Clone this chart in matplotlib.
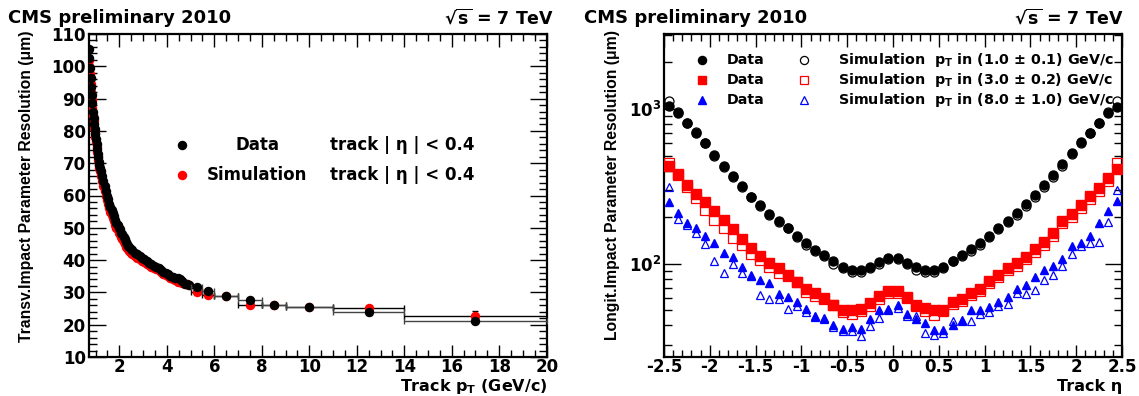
import numpy as np
import matplotlib
matplotlib.use('Agg')
import matplotlib.pyplot as plt
from matplotlib.ticker import MultipleLocator, NullFormatter, FixedLocator, FuncFormatter

plt.rcParams['font.family'] = ['DejaVu Sans']
plt.rcParams['font.weight'] = 'bold'
plt.rcParams['mathtext.fontset'] = 'dejavusans'
plt.rcParams['mathtext.default'] = 'bf'

# ---------------- Left panel data (transverse IP resolution vs pT) ----------------
pt_fine = [0.7125, 0.7375, 0.7625, 0.7875, 0.8125, 0.8375, 0.8625, 0.8875, 0.9125, 0.9375,
           0.9625, 0.9875, 1.0125, 1.0375, 1.0625, 1.0875, 1.1125, 1.1375, 1.1625, 1.1875,
           1.225, 1.275, 1.325, 1.375, 1.425, 1.475, 1.525, 1.575, 1.625, 1.675,
           1.725, 1.775, 1.825, 1.875, 1.925, 1.975, 2.025, 2.075, 2.125, 2.175,
           2.225, 2.275, 2.325, 2.375, 2.425, 2.475,
           2.55, 2.65, 2.75, 2.85, 2.95, 3.05, 3.15, 3.25, 3.35, 3.45,
           3.55, 3.65, 3.75, 3.85, 3.95, 4.05, 4.15, 4.25, 4.35, 4.45,
           4.55, 4.65, 4.75, 4.85, 4.95]
data_fine = [105.5, 102.5, 99.5, 96.5, 93.5, 91.0, 88.5, 86.0, 84.0, 82.0,
             80.5, 79.0, 77.5, 76.0, 74.5, 73.0, 72.0, 70.5, 69.5, 68.5,
             67.5, 66.0, 64.5, 63.0, 61.5, 60.0, 59.0, 57.5, 56.5, 55.5,
             54.5, 53.5, 52.5, 51.5, 51.0, 50.0, 49.5, 48.5, 48.0, 47.0,
             46.5, 45.5, 45.0, 44.5, 44.0, 43.5,
             43.0, 42.3, 41.8, 41.3, 40.6, 40.2, 39.6, 39.0, 38.7, 38.3,
             37.8, 37.5, 37.0, 36.4, 36.0, 35.6, 35.2, 34.9, 34.6, 34.4,
             34.2, 33.5, 32.6, 32.5, 32.4]
sim_fine = [102.0, 100.0, 97.5, 94.5, 92.0, 89.5, 87.0, 85.0, 83.0, 81.0,
            79.5, 78.0, 76.5, 75.0, 73.5, 72.0, 71.0, 69.5, 68.5, 67.5,
            66.0, 64.5, 63.0, 61.5, 60.0, 58.5, 57.5, 56.0, 55.0, 54.0,
            53.0, 52.0, 51.0, 50.0, 49.5, 48.5, 48.0, 47.0, 46.5, 45.5,
            45.0, 44.2, 43.8, 43.3, 42.8, 42.3,
            41.8, 41.2, 40.6, 40.2, 39.8, 39.3, 38.8, 38.4, 38.0, 37.6,
            37.2, 36.8, 36.3, 35.8, 35.4, 35.0, 34.6, 34.2, 33.7, 33.3,
            33.1, 32.9, 32.7, 32.5, 32.3]

pt_wide = [5.25, 5.75, 6.5, 7.5, 8.5, 10.0, 12.5, 17.0]
pt_halfwidth = [0.25, 0.25, 0.5, 0.5, 0.5, 1.0, 1.5, 3.0]
data_wide = [31.8, 30.4, 29.0, 27.7, 26.2, 25.4, 23.8, 21.3]
data_wide_err = [0.3, 0.3, 0.4, 0.4, 0.5, 0.5, 0.7, 0.9]
sim_wide = [30.0, 29.3, 29.0, 26.1, 26.1, 25.4, 25.1, 22.6]
sim_wide_err = [0.3, 0.3, 0.4, 0.4, 0.5, 0.5, 0.8, 1.6]

# ---------------- Right panel data (longitudinal IP resolution vs eta) ----------------
eta_centers = np.round(np.arange(-2.45, 2.5, 0.1), 2)
data_pt1 = [1050, 946, 812, 703, 601, 505, 427, 370, 319, 272,
            240, 209, 190, 171, 152, 136, 123, 114, 103.5, 96,
            91.5, 91.5, 96, 102, 109, 109.5, 101, 95, 91.5, 91.5,
            96, 105, 114, 124.5, 136, 152, 171, 189, 212, 243,
            277, 322, 374, 442, 518, 610, 703, 809, 946, 1030]
sim_pt1 = [1120, 950, 810, 710, 600, 500, 420, 362, 313, 270,
           236, 206, 185, 170, 150, 133, 121, 112, 100, 94,
           88, 89, 94, 100, 107, 107, 99, 91, 88, 88,
           94, 104, 112, 121, 133, 149, 168, 185, 208, 236,
           270, 315, 366, 430, 510, 600, 703, 809, 955, 1120]
data_pt3 = [428, 381, 324, 283, 250, 219, 192, 167, 144, 126,
            113, 101, 94, 85, 76, 69, 65, 60, 54.4, 50,
            50, 51, 56, 61.5, 67, 67, 61, 54.4, 51.8, 50,
            50.5, 56.5, 59, 65, 69, 77, 85, 94, 101, 111,
            125, 139, 159, 189, 209, 240, 275, 308, 358, 410]
sim_pt3 = [446, 375, 312, 265, 223, 192, 170, 147, 133, 116,
           106, 96, 87, 83, 76, 66, 61.5, 59, 54.4, 48.5,
           47.6, 49.3, 53.7, 59, 64.6, 65, 60, 53, 49.3, 46.9,
           49.5, 55, 57.5, 63, 67, 74.6, 82, 91, 97, 107,
           120, 133, 152, 183, 200, 228, 262, 296, 345, 446]
data_pt8 = [250, 212, 183, 171, 152, 136, 118, 111, 96, 83,
            79, 75, 64, 61, 57, 51, 46, 44.7, 40.4, 37.9,
            39, 37.9, 44, 50.5, 51, 54.4, 47.6, 44, 41.4, 37.5,
            37.3, 40.4, 43.6, 50.5, 50.5, 52.6, 57, 61, 69, 73,
            82, 91.5, 97, 107, 131, 136, 152, 183, 218, 256]
sim_pt8 = [315, 194, 178, 159, 135, 105, 87, 100, 87, 85,
           63, 59, 59, 51, 53, 48.5, 45.3, 44, 39, 36.6,
           36.6, 34.3, 39.9, 44.7, 50, 52, 46, 45.8, 35.7, 34.8,
           35.7, 42.4, 43, 42.4, 47.6, 48.5, 53.7, 55, 64.6, 64,
           68, 79, 85, 97, 115, 131, 137, 139, 185, 300]

legend_rows = ["(1.0 \u00b1 0.1)", "(3.0 \u00b1 0.2)", "(8.0 \u00b1 1.0)"]

W, H = 1139, 396
fig = plt.figure(figsize=(W / 100, H / 100), dpi=100)
fig.patch.set_facecolor('white')

ax_bottom = (H - 357) / H
ax_height = (357 - 34) / H
axL = fig.add_axes([88.5 / W, ax_bottom, 458.2 / W, ax_height])
axR = fig.add_axes([664 / W, ax_bottom, 458 / W, ax_height])

for ax in (axL, axR):
    for sp in ax.spines.values():
        sp.set_linewidth(1.6)
    ax.tick_params(which='both', direction='in', top=True, right=True, width=1.0,
                   labelsize=12)
    ax.tick_params(axis='x', which='major', length=9, pad=1)
    ax.tick_params(axis='x', which='minor', length=5)
    ax.tick_params(axis='y', which='major', length=12, pad=2)
    ax.tick_params(axis='y', which='minor', length=6)

# ---- Left panel ----
ms_l = 5.8
axL.plot(pt_fine, sim_fine, 'o', color='red', ms=ms_l, mec='red', zorder=3)
axL.plot(pt_fine, data_fine, 'o', color='black', ms=ms_l, mec='black', zorder=4)
axL.errorbar(pt_wide, sim_wide, xerr=pt_halfwidth, yerr=sim_wide_err, fmt='o', color='red',
             ms=ms_l, ecolor='black', elinewidth=1.0, capsize=2.5, capthick=1.0, zorder=3)
axL.errorbar(pt_wide, data_wide, xerr=pt_halfwidth, yerr=data_wide_err, fmt='o', color='black',
             ms=ms_l, ecolor='#444444', elinewidth=1.0, capsize=2.5, capthick=1.0, zorder=4)
axL.set_xlim(0.7, 20)
axL.set_ylim(10, 110)
axL.xaxis.set_major_locator(FixedLocator([2, 4, 6, 8, 10, 12, 14, 16, 18, 20]))
axL.xaxis.set_minor_locator(MultipleLocator(0.5))
axL.yaxis.set_major_locator(MultipleLocator(10))
axL.yaxis.set_minor_locator(MultipleLocator(2))

# left legend
lx_m, lx_lab, lx_trk = 0.204, 0.368, 0.528
for yy, col, lab in [(0.656, 'black', 'Data'), (0.563, 'red', 'Simulation')]:
    axL.plot([lx_m], [yy], 'o', color=col, ms=ms_l, transform=axL.transAxes, clip_on=False)
    axL.text(lx_lab, yy, lab, transform=axL.transAxes, ha='center', va='center', fontsize=12,
             fontweight='bold')
    axL.text(lx_trk, yy, 'track | \u03b7 | < 0.4', transform=axL.transAxes, ha='left',
             va='center', fontsize=12, fontweight='bold')

# ---- Right panel ----
ms_r = 6.5
axR.set_yscale('log')
axR.plot(eta_centers, sim_pt1, 'o', mfc='none', mec='black', mew=0.9, ms=ms_r, zorder=3)
axR.plot(eta_centers, data_pt1, 'o', color='black', ms=ms_r, zorder=4)
axR.plot(eta_centers, sim_pt3, 's', mfc='none', mec='red', mew=0.9, ms=ms_r, zorder=3)
axR.plot(eta_centers, data_pt3, 's', color='red', ms=ms_r, zorder=4)
axR.plot(eta_centers, sim_pt8, '^', mfc='none', mec='blue', mew=0.9, ms=ms_r * 0.95, zorder=3)
axR.plot(eta_centers, data_pt8, '^', color='blue', ms=ms_r * 0.95, zorder=4)
axR.set_xlim(-2.5, 2.5)
axR.set_ylim(25, 3050)
axR.xaxis.set_major_locator(MultipleLocator(0.5))
axR.xaxis.set_minor_locator(MultipleLocator(0.1))
axR.xaxis.set_major_formatter(FuncFormatter(lambda v, p: '%g' % round(v, 2)))
axR.yaxis.set_major_locator(FixedLocator([100, 1000]))
axR.yaxis.set_minor_locator(FixedLocator([30, 40, 50, 60, 70, 80, 90,
                                          200, 300, 400, 500, 600, 700, 800, 900,
                                          2000, 3000]))
axR.yaxis.set_minor_formatter(NullFormatter())
axR.yaxis.set_major_formatter(FuncFormatter(lambda v, p: r'$\mathbf{10^{%d}}$' % round(np.log10(v))))

# right legend
rx_f, rx_dat, rx_o, rx_sim = 0.082, 0.136, 0.305, 0.379
rows_y = [0.920, 0.858, 0.796]
styles = [('o', 'black'), ('s', 'red'), ('^', 'blue')]
for yy, (mk, col), rng in zip(rows_y, styles, legend_rows):
    axR.plot([rx_f], [yy], mk, color=col, ms=ms_r * 0.9, transform=axR.transAxes, clip_on=False)
    axR.plot([rx_o], [yy], mk, mfc='none', mec=col, mew=0.9, ms=ms_r * 0.9,
             transform=axR.transAxes, clip_on=False)
    axR.text(rx_dat, yy, 'Data', transform=axR.transAxes, ha='left', va='center', fontsize=10.3)
    axR.text(rx_sim, yy, 'Simulation  p$_{T}$ in ' + rng + ' GeV/c', transform=axR.transAxes,
             ha='left', va='center', fontsize=10.3)

# ---- Titles / labels ----
fig.text(8 / W, 1 - 18 / H, 'CMS preliminary 2010', ha='left', va='center', fontsize=13)
fig.text(554 / W, 1 - 18 / H, r'$\sqrt{s}$ = 7 TeV', ha='right', va='center', fontsize=12.5)
fig.text(584 / W, 1 - 18 / H, 'CMS preliminary 2010', ha='left', va='center', fontsize=13)
fig.text(1124 / W, 1 - 18 / H, r'$\sqrt{s}$ = 7 TeV', ha='right', va='center', fontsize=12.5)

fig.text(547 / W, 1 - 387 / H, 'Track p$_{T}$ (GeV/c)', ha='right', va='center', fontsize=11.5)
fig.text(1122 / W, 1 - 387 / H, 'Track \u03b7', ha='right', va='center', fontsize=11.5)

fig.text(27 / W, 1 - 30 / H, 'Transv.Impact Parameter Resolution (\u03bcm)', rotation=90,
         ha='center', va='top', fontsize=11.3, family='Liberation Sans', fontweight='bold')
fig.text(612 / W, 1 - 30 / H, 'Longit.Impact Parameter Resolution (\u03bcm)', rotation=90,
         ha='center', va='top', fontsize=11.3, family='Liberation Sans', fontweight='bold')

fig.savefig('out.png', dpi=100, facecolor='white')
